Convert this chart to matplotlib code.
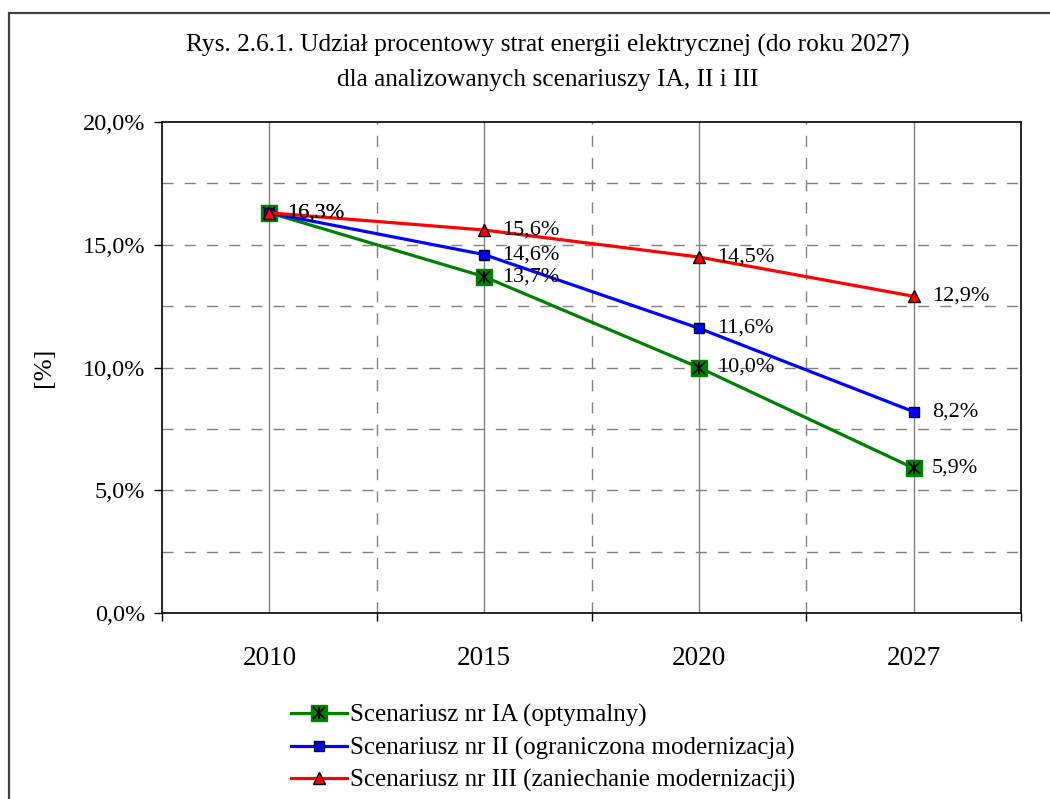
import matplotlib
matplotlib.use("Agg")
import matplotlib.pyplot as plt
from matplotlib.patches import Rectangle

plt.rcParams['font.family'] = ['Liberation Serif', 'DejaVu Serif']

# lata i udział strat [%] dla trzech scenariuszy
years = ["2010", "2015", "2020", "2027"]
scen_ia = [16.3, 13.7, 10.0, 5.9]
scen_ii = [16.3, 14.6, 11.6, 8.2]
scen_iii = [16.3, 15.6, 14.5, 12.9]
names = ["Scenariusz nr IA (optymalny)",
         "Scenariusz nr II (ograniczona modernizacja)",
         "Scenariusz nr III (zaniechanie modernizacji)"]
labels_ia = ["16,3%", "13,7%", "10,0%", "5,9%"]
labels_ii = ["", "14,6%", "11,6%", "8,2%"]
labels_iii = ["16,3%", "15,6%", "14,5%", "12,9%"]

fig = plt.figure(figsize=(10.5, 7.99), dpi=100)
ax = fig.add_axes([0.1543, 0.2328, 0.8181, 0.6145])

x = [i + 0.5 for i in range(len(years))]

# siatka
for yv in [2.5, 5, 7.5, 10, 12.5, 15, 17.5]:
    ax.axhline(yv, color="#808080", lw=1, ls=(0, (8, 8)), zorder=1)
for xv in [1, 2, 3]:
    ax.axvline(xv, color="#808080", lw=1, ls=(0, (8, 8)), zorder=1)
for xv in x:
    ax.axvline(xv, color="#808080", lw=1, zorder=1)

lw = 2.3
g, = ax.plot(x, scen_ia, color="#008000", lw=lw, marker="s", ms=11.5,
             mfc="#008000", mec="#008000", zorder=3)
gx, = ax.plot(x, scen_ia, ls="none", marker="x", ms=9, mec="black", mew=1.2, zorder=4)
gv, = ax.plot(x, scen_ia, ls="none", marker="|", ms=9, mec="black", mew=1.2, zorder=4)
b, = ax.plot(x, scen_ii, color="#0000ff", lw=lw, marker="s", ms=7,
             mfc="#0000ff", mec="black", mew=1, zorder=5)
r, = ax.plot(x, scen_iii, color="#ff0000", lw=lw, marker="^", ms=8,
             mfc="#ff0000", mec="black", mew=1, zorder=6)

for vals, labs in [(scen_ia, labels_ia), (scen_ii, labels_ii), (scen_iii, labels_iii)]:
    for xi, v, t in zip(x, vals, labs):
        if t:
            ax.annotate(t, (xi, v), xytext=(13, 0), textcoords="offset points",
                        va="center", ha="left", fontsize=16, zorder=7)

ax.set_xlim(0, 4)
ax.set_ylim(0, 20)
ax.set_xticks([0, 1, 2, 3, 4])
ax.set_xticklabels([])
ax.set_xticks(x, minor=True)
ax.set_xticklabels(years, minor=True, fontsize=19.5)
ax.tick_params(axis="x", which="major", direction="out", length=6, width=1, color="black")
ax.tick_params(axis="x", which="minor", length=0, pad=24)
ax.set_yticks([0, 5, 10, 15, 20])
ax.set_yticklabels(["0,0%", "5,0%", "10,0%", "15,0%", "20,0%"], fontsize=17.5)
ax.tick_params(axis="y", direction="out", length=6, width=1, color="black", pad=6)
for s in ax.spines.values():
    s.set_color("black")
    s.set_linewidth(1.2)

ax.set_ylabel("[%]", fontsize=19, labelpad=20)

tx = 548 / 1050
fig.text(tx, 1 - 45 / 799, "Rys. 2.6.1. Udział procentowy strat energii elektrycznej (do roku 2027)",
         ha="center", va="center", fontsize=18.3)
fig.text(tx, 1 - 80 / 799, "dla analizowanych scenariuszy IA, II i III",
         ha="center", va="center", fontsize=18.3)

fig.legend([(g, gx, gv), b, r], names, loc="upper left",
           bbox_to_anchor=(281 / 1050, 1 - 694 / 799), frameon=False,
           fontsize=18, handlelength=2.25, handletextpad=0.1, labelspacing=0.38,
           borderaxespad=0)

# ramka wokół całego wykresu
fig.patches.append(Rectangle((9 / 1050, -0.2), 1.2, 1.2 - 13 / 799,
                             transform=fig.transFigure, fill=False,
                             edgecolor="#404040", lw=1.6, clip_on=False))

fig.savefig("out.png", dpi=100)
